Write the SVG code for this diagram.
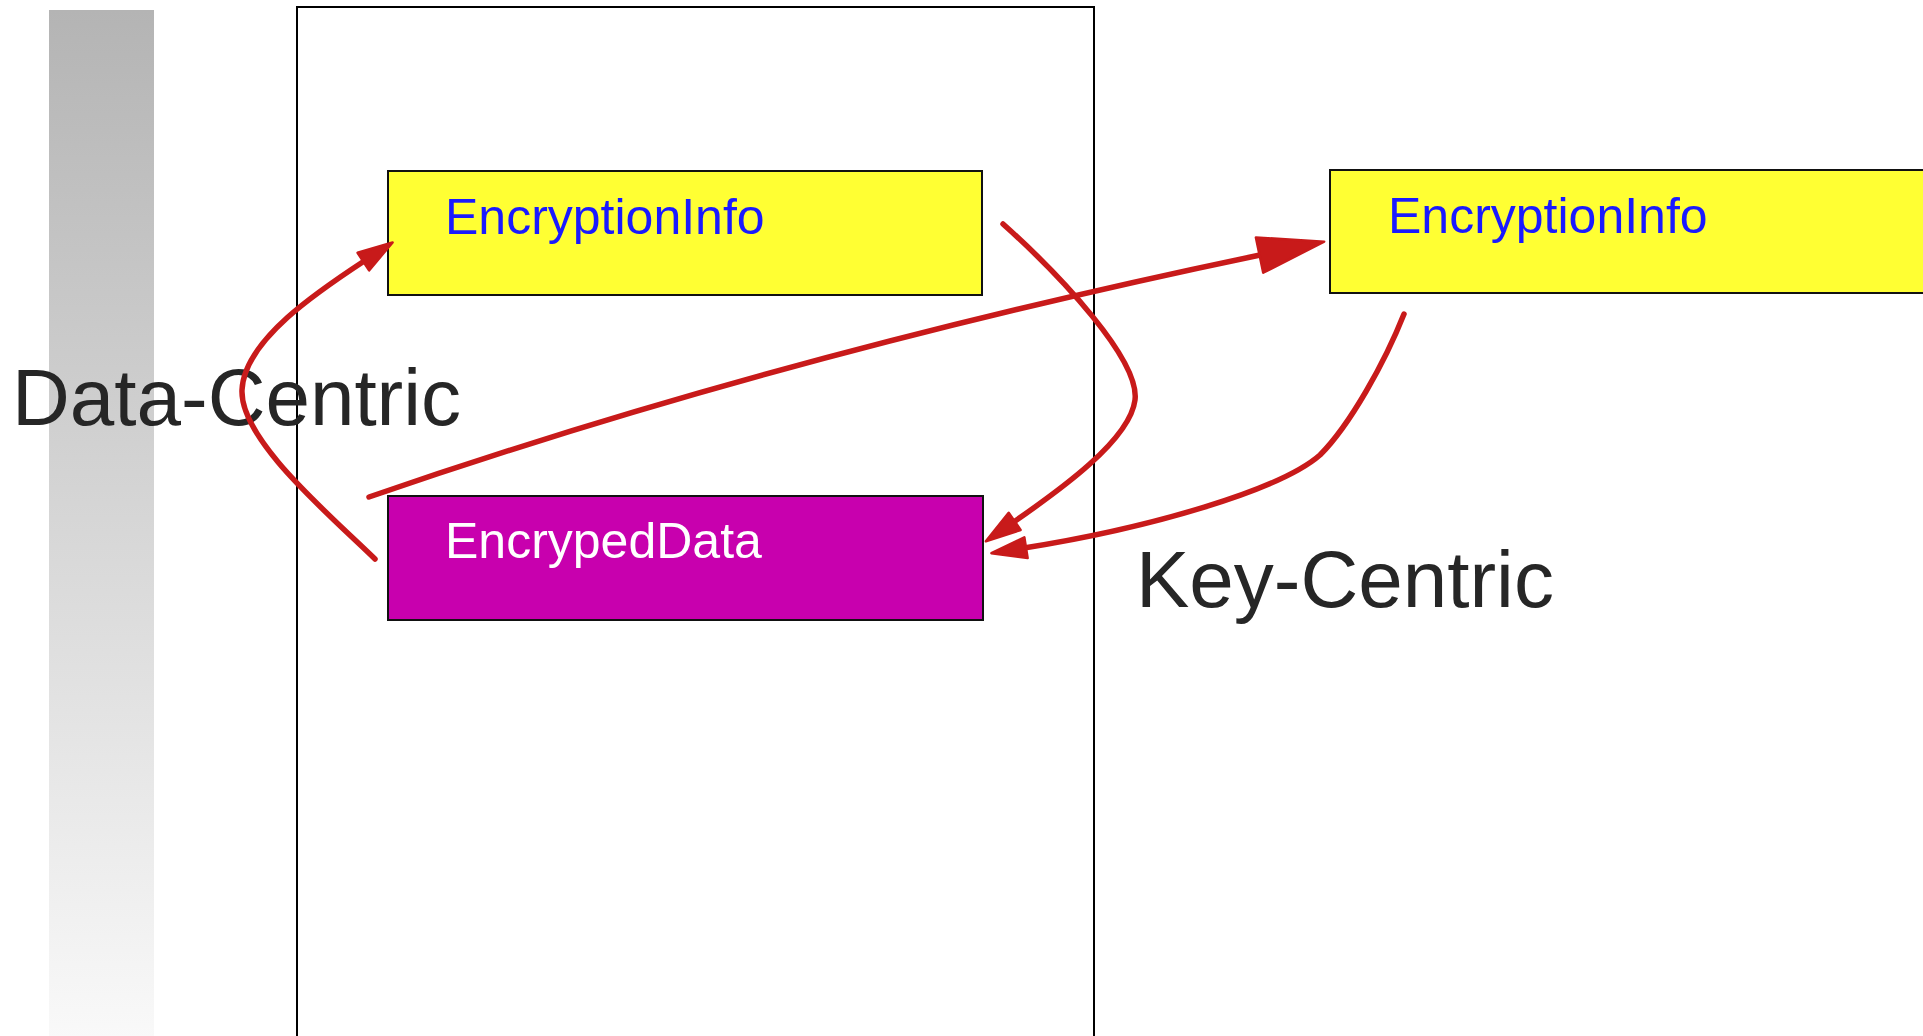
<svg xmlns="http://www.w3.org/2000/svg" width="1923" height="1036" viewBox="0 0 1923 1036">
  <defs>
    <linearGradient id="barFade" x1="0" y1="0" x2="0" y2="1">
      <stop offset="0" stop-color="#b4b4b4"/>
      <stop offset="1" stop-color="#f9f9f9"/>
    </linearGradient>
    <marker id="headSmall" markerUnits="userSpaceOnUse" viewBox="-1 -13 40 26" markerWidth="40" markerHeight="26" refX="2" refY="0" orient="auto" overflow="visible">
      <path d="M0,-10.5 L35,0 L0,10.5 Z" class="head"/>
    </marker>
    <marker id="headLarge" markerUnits="userSpaceOnUse" viewBox="-1 -20 70 40" markerWidth="70" markerHeight="40" refX="3" refY="0" orient="auto" overflow="visible">
      <path d="M0,-18 L66,0 L0,18 Z" class="head"/>
    </marker>
  </defs>
  <style>
    .frame { fill: none; stroke: #000; stroke-width: 2; }
    .box { stroke: #111; stroke-width: 2; }
    .info { fill: #ffff33; }
    .data { fill: #c800ae; }
    .label { font-family: "Liberation Sans", Arial, sans-serif; font-size: 50px; }
    .blue { fill: #1a1aff; }
    .white { fill: #ffffff; }
    .title { font-family: "Liberation Sans", Arial, sans-serif; font-size: 80px; fill: #262626; }
    .link { fill: none; stroke: #c81a1a; stroke-width: 5.5; stroke-linecap: round; stroke-linejoin: round; }
    .head { fill: #c81a1a; stroke: #c81a1a; stroke-width: 2.5; stroke-linejoin: round; }
  </style>

  <!-- shaded side bar -->
  <rect x="49" y="10" width="105" height="1030" fill="url(#barFade)"/>

  <!-- document frame -->
  <rect class="frame" x="297" y="7" width="797" height="1040"/>

  <text class="title" x="12" y="425">Data-Centric</text>
  <text class="title" x="1136" y="607">Key-Centric</text>

  <g id="encryption-info-inner">
    <rect class="box info" x="388" y="171" width="594" height="124"/>
    <text class="label blue" x="445" y="234">EncryptionInfo</text>
  </g>

  <g id="encrypted-data">
    <rect class="box data" x="388" y="496" width="595" height="124"/>
    <text class="label white" x="445" y="558">EncrypedData</text>
  </g>

  <g id="encryption-info-outer">
    <rect class="box info" x="1330" y="170" width="620" height="123"/>
    <text class="label blue" x="1388" y="233">EncryptionInfo</text>
  </g>

  <g id="connectors">
    <!-- data loops back up to its own key info -->
    <path class="link" marker-end="url(#headSmall)" d="M375,559 C330,515 240,440 242,390 C244,340 320,290 365,260.5"/>
    <!-- inner key info points down to the data -->
    <path class="link" marker-end="url(#headSmall)" d="M1003,224 C1060,275 1140,360 1135,400 C1130,440 1060,490 1013,522.5"/>
    <!-- outer key info points back to the data -->
    <path class="link" marker-end="url(#headSmall)" d="M1404,314 C1385,362 1350,425 1320,455 C1280,490 1150,528 1024,548"/>
    <!-- data references the external key info -->
    <path class="link" marker-end="url(#headLarge)" d="M369,497 Q780,355 1262.5,254.5"/>
  </g>
</svg>
